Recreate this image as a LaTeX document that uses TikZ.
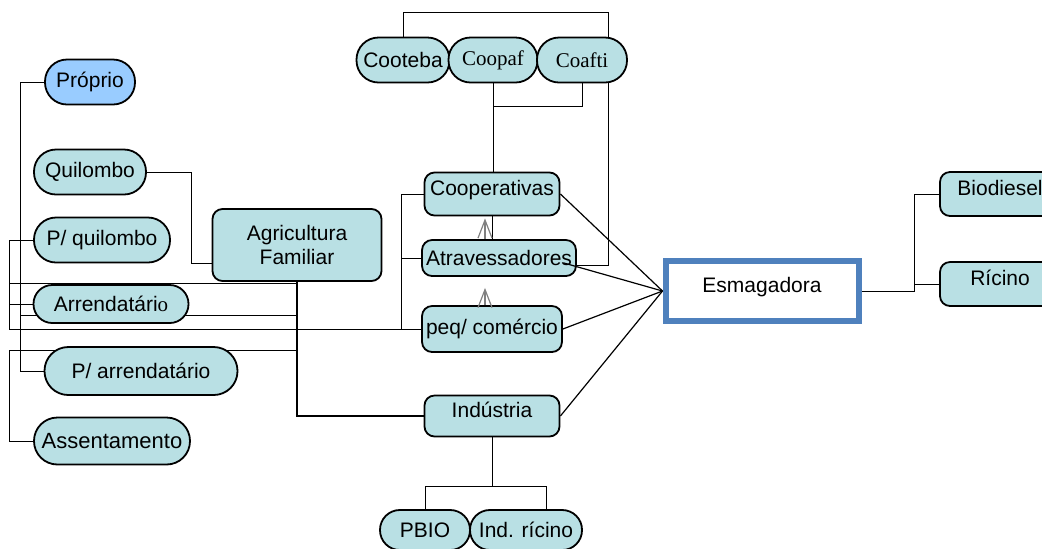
\documentclass[tikz,border=0pt]{standalone}
\usepackage{fontspec}
\setmainfont{Liberation Sans}
\newfontfamily\timesfont{Liberation Serif}
\usetikzlibrary{backgrounds,arrows.meta}
\definecolor{boxfill}{RGB}{185,224,228}
\definecolor{ownfill}{RGB}{153,204,255}
\definecolor{esmblue}{RGB}{79,129,189}
\begin{document}
\begin{tikzpicture}[x=0.5pt,y=-0.5pt]
  \tikzset{ pill/.style={draw, rectangle, rounded corners=11pt, fill=boxfill, line width=0.9pt, minimum height=22.5pt, inner sep=1pt, font=\fontsize{10.5}{12}\selectfont},
            rbox/.style={draw, rectangle, rounded corners=5pt, fill=boxfill, line width=0.9pt, inner sep=2pt, font=\fontsize{10.5}{12}\selectfont},
            hi/.style={text depth=6pt},
            uparr/.style={draw=gray, line width=0.6pt, -{Straight Barb[length=9pt,width=7pt]}} };
  \useasboundingbox (0,0) rectangle (1042,548);
  % left side
  \node[pill, fill=ownfill, minimum width=45pt] (propr) at (90,82) {Próprio};
  \node[pill, minimum width=56pt] (quil) at (90,172) {Quilombo};
  \node[pill, minimum width=68pt] (pquil) at (102,240) {P/ quilombo};
  \node[pill, minimum width=77.5pt, minimum height=19pt, rounded corners=9.4pt] (arrend) at (111,304) {Arrendatári{\timesfont o}};
  \node[pill, minimum width=96.5pt, minimum height=24pt, rounded corners=11.9pt] (parrend) at (141,371) {P/ arrendatário};
  \node[pill, minimum width=78pt, minimum height=23.5pt, rounded corners=11.7pt, font=\fontsize{11}{13}\selectfont] (assent) at (112,441) {Assentamento};
  \node[rbox, minimum width=84.5pt, minimum height=36pt, align=center] (agri) at (297,245) {Agricultura\\Familiar};
  % middle
  \node[pill, minimum width=46.5pt] (cooteba) at (403,60) {Cooteba};
  \node[pill, minimum width=44.5pt, font=\timesfont\fontsize{10.5}{12}\selectfont] (coopaf) at (493,60) {Coopaf};
  \node[pill, minimum width=45pt, font=\timesfont\fontsize{10.5}{12}\selectfont] (coafti) at (582,60) {Coafti};
  \node[rbox, hi, minimum width=67.5pt, minimum height=21.5pt] (coop) at (492,194) {Cooperativas};
  \node[rbox, minimum width=74pt, minimum height=18pt] (atrav) at (499,258) {Atravessadores};
  \node[rbox, minimum width=67.5pt, minimum height=23pt] (peq) at (492,329) {peq/ comércio};
  \node[rbox, hi, minimum width=67.5pt, minimum height=20.5pt] (indus) at (492,416) {Indústria};
  \node[pill, minimum width=45pt, minimum height=20pt, rounded corners=9.9pt] (pbio) at (425,530) {PBIO};
  \node[pill, minimum width=56pt, minimum height=20pt, rounded corners=9.9pt] (indric) at (526,530) {Ind. rícino};
  % right side
  \node[draw=esmblue, line width=3pt, hi, minimum width=96.5pt, minimum height=30pt, font=\fontsize{10.5}{12}\selectfont] (esmag) at (762,291) {Esmagadora};
  \node[rbox, hi, minimum width=60pt, minimum height=22pt] (biod) at (1000,194) {Biodiesel};
  \node[rbox, hi, minimum width=60pt, minimum height=22pt] (ricino) at (1000,284) {Rícino};
  \begin{scope}[on background layer, line width=0.5pt]
    \draw (propr.west) -- ++(-24,0) coordinate (pl) |- (parrend.west);
    \draw (pl |- 0,315) -- (agri.south |- 0,315);
    \draw (pquil.west) -- ++(-24,0) coordinate (ql) |- (peq.west);
    \draw (ql |- 0,283) -- (agri.south |- 0,283);
    \draw (ql |- arrend.west) -- (arrend.west);
    \draw (assent.west) -- ++(-24,0) |- (agri.south |- 0,350);
    \draw[line width=0.8pt] (agri.south) |- (indus.west);
    \draw (quil.east) -- ++(44,0) |- ([yshift=-9pt]agri.west);
    \draw (coop.west) -- ++(-22,0) coordinate (cl) -- (cl |- peq.west);
    \draw (atrav.west) -- (cl |- atrav.west);
    \draw (cooteba.north) -- ++(0,-24) -| (608,265) -- ([yshift=-3.5pt]atrav.east);
    \draw (coopaf.south) -- (coopaf.south |- coop.north);
    \draw (coafti.south) -- ++(0,23) -| (coopaf.south);
    \draw (coop.south) -- (coop.south |- atrav.north);
    \draw (esmag.east) -- ++(53,0) coordinate (el) |- (biod.west);
    \draw (el |- ricino.west) -- (ricino.west);
    \draw (indus.south) -- ++(0,50);
    \draw (pbio.north) -- ++(0,-23) -| ([xshift=10pt]indric.north);
  \end{scope}
  \foreach \n in {coop,peq,indus} \draw[line width=0.6pt] (\n.east) -- (esmag.west);
  \draw[line width=0.6pt] ([xshift=-6.5pt,yshift=-2.5pt]atrav.east) -- (esmag.west);
  \draw[uparr] ([xshift=-7pt]atrav.north) -- ([xshift=-7pt,yshift=-1pt]atrav.north |- coop.south);
  \draw[uparr] ([xshift=-3.5pt]peq.north) -- ([xshift=-3.5pt,yshift=-5.5pt]peq.north |- atrav.south);
\end{tikzpicture}
\end{document}
